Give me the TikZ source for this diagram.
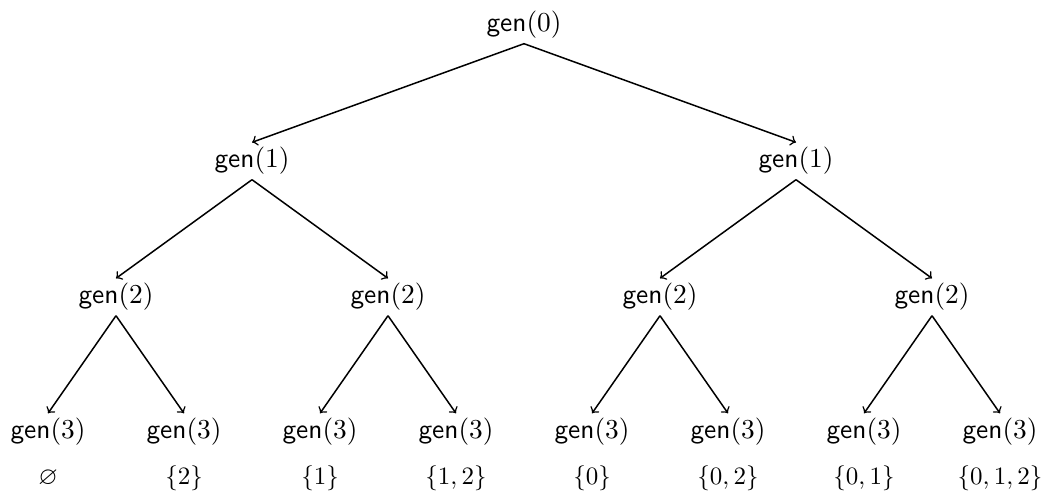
\documentclass[tikz,border=0pt]{standalone}
\usepackage{amssymb}
\begin{document}
\begin{tikzpicture}[x=0.4pt,y=-0.4pt,
  gn/.style={inner sep=1.8pt, font=\fontsize{11}{13}\selectfont},
  setlbl/.style={inner sep=0pt},
  edge/.style={->, line width=0.6pt}]
\useasboundingbox (0,0) rectangle (1045,495);
% level 0
\node[gn] (r) at (524,25) {$\mathsf{gen}(0)$};
% level 1
\node[gn] (a) at (252,161) {$\mathsf{gen}(1)$};
\node[gn] (b) at (796,161) {$\mathsf{gen}(1)$};
% level 2
\node[gn] (aa) at (116,297) {$\mathsf{gen}(2)$};
\node[gn] (ab) at (388,297) {$\mathsf{gen}(2)$};
\node[gn] (ba) at (660,297) {$\mathsf{gen}(2)$};
\node[gn] (bb) at (932,297) {$\mathsf{gen}(2)$};
% level 3
\node[gn] (l1) at (48,432) {$\mathsf{gen}(3)$};
\node[gn] (l2) at (184,432) {$\mathsf{gen}(3)$};
\node[gn] (l3) at (320,432) {$\mathsf{gen}(3)$};
\node[gn] (l4) at (456,432) {$\mathsf{gen}(3)$};
\node[gn] (l5) at (592,432) {$\mathsf{gen}(3)$};
\node[gn] (l6) at (728,432) {$\mathsf{gen}(3)$};
\node[gn] (l7) at (864,432) {$\mathsf{gen}(3)$};
\node[gn] (l8) at (1000,432) {$\mathsf{gen}(3)$};
% sets
\node[setlbl] (s1) at (48,478) {$\varnothing$};
\node[setlbl] (s2) at (184,478) {$\{2\}$};
\node[setlbl] (s3) at (320,478) {$\{1\}$};
\node[setlbl] (s4) at (456,478) {$\{1,2\}$};
\node[setlbl] (s5) at (592,478) {$\{0\}$};
\node[setlbl] (s6) at (728,478) {$\{0,2\}$};
\node[setlbl] (s7) at (864,478) {$\{0,1\}$};
\node[setlbl] (s8) at (1000,478) {$\{0,1,2\}$};
% edges
\draw[edge] (r.south) -- (a.north);
\draw[edge] (r.south) -- (b.north);
\draw[edge] (a.south) -- (aa.north);
\draw[edge] (a.south) -- (ab.north);
\draw[edge] (b.south) -- (ba.north);
\draw[edge] (b.south) -- (bb.north);
\draw[edge] (aa.south) -- (l1.north);
\draw[edge] (aa.south) -- (l2.north);
\draw[edge] (ab.south) -- (l3.north);
\draw[edge] (ab.south) -- (l4.north);
\draw[edge] (ba.south) -- (l5.north);
\draw[edge] (ba.south) -- (l6.north);
\draw[edge] (bb.south) -- (l7.north);
\draw[edge] (bb.south) -- (l8.north);
\end{tikzpicture}
\end{document}
